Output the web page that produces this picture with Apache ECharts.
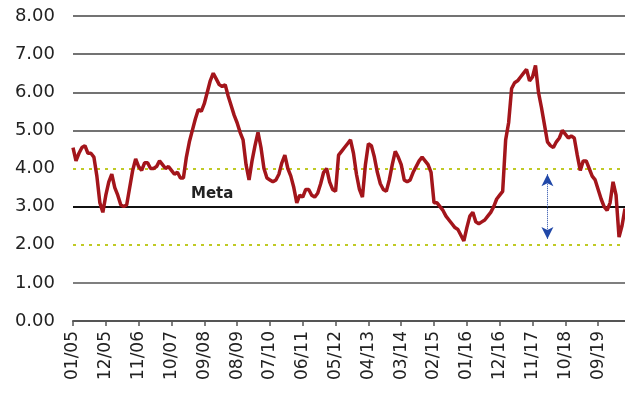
<!DOCTYPE html>
<html>
<head>
<meta charset="utf-8">
<script src="https://cdn.jsdelivr.net/npm/echarts@6/dist/echarts.min.js"></script>
<style>
  html, body { margin: 0; padding: 0; background: #fff; }
  #chart { width: 625px; height: 396px; }
</style>
</head>
<body>
<div id="chart"></div>
<script>
  // valores mensuales, ene-2005 .. jun-2020
  var y2005 = [4.55, 4.2, 4.4, 4.55, 4.6, 4.4, 4.4, 4.3, 3.8, 3.1, 2.85, 3.3]
  var y2006 = [3.65, 3.85, 3.5, 3.3, 3.05, 3.0, 3.05, 3.5, 3.95, 4.25, 4.05, 3.95]
  var y2007 = [4.15, 4.15, 4.0, 4.0, 4.05, 4.2, 4.1, 4.0, 4.05, 3.95, 3.85, 3.9]
  var y2008 = [3.75, 3.75, 4.3, 4.7, 5.0, 5.3, 5.55, 5.5, 5.7, 6.0, 6.3, 6.5]
  var y2009 = [6.35, 6.2, 6.15, 6.2, 5.9, 5.65, 5.4, 5.2, 4.95, 4.75, 4.1, 3.7]
  var y2010 = [4.2, 4.6, 4.95, 4.55, 4.0, 3.75, 3.7, 3.65, 3.7, 3.85, 4.15, 4.35]
  var y2011 = [4.0, 3.8, 3.5, 3.1, 3.3, 3.25, 3.45, 3.45, 3.3, 3.25, 3.35, 3.6]
  var y2012 = [3.9, 4.0, 3.65, 3.45, 3.4, 4.35, 4.45, 4.55, 4.65, 4.75, 4.4, 3.85]
  var y2013 = [3.45, 3.25, 4.1, 4.65, 4.6, 4.3, 3.9, 3.6, 3.45, 3.4, 3.7, 4.1]
  var y2014 = [4.45, 4.3, 4.1, 3.7, 3.65, 3.7, 3.9, 4.05, 4.2, 4.3, 4.2, 4.1]
  var y2015 = [3.9, 3.1, 3.1, 3.0, 2.9, 2.75, 2.65, 2.55, 2.45, 2.4, 2.25, 2.1]
  var y2016 = [2.45, 2.75, 2.85, 2.6, 2.55, 2.6, 2.65, 2.75, 2.85, 3.0, 3.2, 3.3]
  var y2017 = [3.4, 4.75, 5.2, 6.1, 6.25, 6.3, 6.4, 6.5, 6.6, 6.3, 6.4, 6.7]
  var y2018 = [6.0, 5.6, 5.15, 4.7, 4.6, 4.55, 4.7, 4.8, 5.0, 4.9, 4.8, 4.85]
  var y2019 = [4.8, 4.35, 3.95, 4.2, 4.2, 4.0, 3.8, 3.7, 3.45, 3.2, 3.0, 2.9]
  var y2020 = [3.1, 3.65, 3.3, 2.2, 2.5, 2.95]

  var values = [].concat(y2005, y2006, y2007, y2008, y2009, y2010, y2011, y2012,
    y2013, y2014, y2015, y2016, y2017, y2018, y2019, y2020)

  // etiquetas MM/AA
  var months = []
  for (var i = 0; i < values.length; i++) {
    var m = i % 12 + 1
    var yy = 5 + Math.floor(i / 12)
    months.push((m < 10 ? '0' : '') + m + '/' + (yy < 10 ? '0' : '') + yy)
  }

  var metaValue = 3
  var bandLow = 2
  var bandHigh = 4
  var arrowIndex = 159
  var arrowEnds = [3.85, 2.15]

  var chart = echarts.init(document.getElementById('chart'))
  var dotted = {color: '#bfca24', type: [3, 5], width: 2}

  chart.setOption({
    animation: false,
    grid: {left: 73, right: 0, top: 16, bottom: 75},
    xAxis: {
      type: 'category',
      data: months,
      boundaryGap: false,
      axisLine: {lineStyle: {color: '#555', width: 2}},
      axisTick: {
        show: true,
        interval: 10,
        length: 5,
        lineStyle: {color: '#555', width: 1.5}
      },
      axisLabel: {
        interval: 10,
        rotate: 90,
        margin: 10,
        color: '#222',
        fontSize: 17,
        fontFamily: 'DejaVu Sans'
      },
      splitLine: {show: false}
    },
    yAxis: {
      type: 'value',
      min: 0,
      max: 8,
      interval: 1,
      axisLine: {show: false},
      axisTick: {show: false},
      axisLabel: {
        margin: 18,
        color: '#222',
        fontSize: 18,
        fontFamily: 'DejaVu Sans',
        formatter: function (v) { return v.toFixed(2) }
      },
      splitLine: {
        show: true,
        lineStyle: {
          width: 1.5,
          color: ['transparent', '#555', 'transparent', 'transparent', 'transparent',
            '#444', '#444', '#444', '#444']
        }
      }
    },
    series: [{
      type: 'line',
      data: values,
      showSymbol: false,
      lineStyle: {color: '#a3151b', width: 3.5},
      z: 5,
      markLine: {
        silent: true,
        symbol: ['none', 'none'],
        label: {show: false},
        data: [
          {yAxis: bandLow, lineStyle: dotted},
          {yAxis: bandHigh, lineStyle: dotted},
          {
            yAxis: metaValue,
            lineStyle: {color: '#111', type: 'solid', width: 2},
            label: {
              show: true,
              formatter: 'Meta',
              position: 'insideStartTop',
              distance: [118, 5],
              color: '#222',
              fontSize: 15,
              fontWeight: 'bold',
              fontFamily: 'DejaVu Sans'
            }
          },
          [
            {coord: [arrowIndex, arrowEnds[0]], symbol: 'arrow', symbolSize: [9, 12]},
            {
              coord: [arrowIndex, arrowEnds[1]],
              symbol: 'arrow',
              symbolSize: [9, 12],
              lineStyle: {color: '#2148a8', type: 'dotted', width: 1}
            }
          ]
        ]
      }
    }]
  })
</script>
</body>
</html>
